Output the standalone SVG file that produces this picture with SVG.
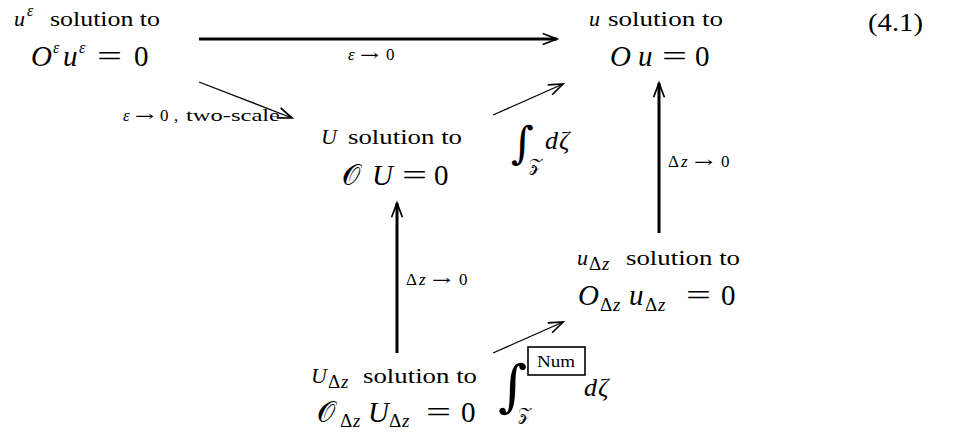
<svg xmlns="http://www.w3.org/2000/svg" width="962" height="432" viewBox="0 0 962 432">
<defs>
<marker id="ah" markerUnits="userSpaceOnUse" markerWidth="20" markerHeight="20" refX="0" refY="0" viewBox="-12 -6 14 12" orient="auto" overflow="visible">
<path d="M-10,-3.8 L0,0 L-10,3.8" fill="none" stroke="#000" stroke-width="1.2"/>
</marker>
</defs>
<style>
text{font-family:"Liberation Serif",serif;fill:#000}
.t{font-size:22px}
.i{font-style:italic}
.m{font-size:29px}
.sup{font-size:16px;font-style:italic}
.sub{font-size:19px}
.lb{font-size:17px}
.ar{font-family:"DejaVu Serif",serif;font-size:15px}
.cal{font-family:"DejaVu Serif","DejaVu Sans",serif;font-style:normal}
.int{font-family:"DejaVu Serif",serif}
.thick{stroke:#000;stroke-width:3;fill:none}
.thin{stroke:#000;stroke-width:1.3;fill:none}
</style>
<rect width="962" height="432" fill="#fff"/>

<g id="connectors">
<line class="thick" x1="199" y1="39" x2="557" y2="39" marker-end="url(#ah)"/>
<g id="lbl-eps-top">
<text class="lb i" x="348" y="60">ε</text>
<text class="ar" x="360" y="60" textLength="19" lengthAdjust="spacingAndGlyphs">→</text>
<text class="lb" x="386" y="60">0</text>
</g>
<line class="thin" x1="199" y1="82" x2="292" y2="118" marker-end="url(#ah)"/>
<g id="lbl-two-scale">
<text class="lb i" x="123" y="121">ε</text>
<text class="ar" x="135" y="121" textLength="19" lengthAdjust="spacingAndGlyphs">→</text>
<text class="lb" x="160" y="121">0</text>
<text class="lb" x="174" y="121">,</text>
<text class="lb" x="186" y="121" textLength="94" lengthAdjust="spacingAndGlyphs">two-scale</text>
</g>
<line class="thin" x1="493" y1="115" x2="563" y2="84" marker-end="url(#ah)"/>
<line class="thick" x1="659" y1="233" x2="659" y2="83" marker-end="url(#ah)"/>
<g id="lbl-dz-right">
<text class="lb" x="668" y="167">Δ</text>
<text class="lb i" x="681" y="167">z</text>
<text class="ar" x="694" y="167" textLength="19" lengthAdjust="spacingAndGlyphs">→</text>
<text class="lb" x="721" y="167">0</text>
</g>
<line class="thick" x1="397" y1="353" x2="397" y2="203" marker-end="url(#ah)"/>
<g id="lbl-dz-left">
<text class="lb" x="406" y="285">Δ</text>
<text class="lb i" x="419" y="285">z</text>
<text class="ar" x="432" y="285" textLength="19" lengthAdjust="spacingAndGlyphs">→</text>
<text class="lb" x="459" y="285">0</text>
</g>
<line class="thin" x1="493" y1="353" x2="563" y2="322" marker-end="url(#ah)"/>
</g>

<g id="int1">
<text class="int" x="511" y="158" font-size="44">∫</text>
<text class="cal" x="529" y="171" font-size="17">𝒵</text>
<text class="i" x="545" y="149" font-size="26">d</text>
<text class="i" x="559" y="149" font-size="26">ζ</text>
</g>

<g id="int2">
<text class="int" x="498" y="405" font-size="56">∫</text>
<text class="cal" x="518" y="420" font-size="17">𝒵</text>
<rect x="528" y="347" width="57" height="28" fill="none" stroke="#000" stroke-width="1.6"/>
<text x="556" y="367" font-size="16" text-anchor="middle" textLength="38" lengthAdjust="spacingAndGlyphs">Num</text>
<text class="i" x="584" y="396" font-size="26">d</text>
<text class="i" x="598" y="396" font-size="26">ζ</text>
</g>

<g id="nodeA">
<text class="t i" x="14" y="26">u</text>
<text class="sup" x="27" y="16">ε</text>
<text class="t" x="50" y="26" textLength="110" lengthAdjust="spacingAndGlyphs">solution to</text>
<text class="m i" x="31" y="66">O</text>
<text class="sup" x="53" y="53">ε</text>
<text class="m i" x="63" y="66">u</text>
<text class="sup" x="79" y="53">ε</text>
<text class="m" x="97" y="66" textLength="25" lengthAdjust="spacingAndGlyphs">=</text>
<text class="m" x="134" y="66">0</text>
</g>

<g id="nodeB">
<text class="t i" x="589" y="26">u</text>
<text class="t" x="608" y="26" textLength="115" lengthAdjust="spacingAndGlyphs">solution to</text>
<text class="m i" x="610" y="66">O</text>
<text class="m i" x="638" y="66">u</text>
<text class="m" x="662" y="66" textLength="25" lengthAdjust="spacingAndGlyphs">=</text>
<text class="m" x="695" y="66">0</text>
</g>

<g id="eqnum">
<text x="868" y="31" font-size="25" textLength="55" lengthAdjust="spacingAndGlyphs">(4.1)</text>
</g>

<g id="nodeC">
<text class="t i" x="321" y="144">U</text>
<text class="t" x="348" y="144" textLength="114" lengthAdjust="spacingAndGlyphs">solution to</text>
<text class="m cal" x="342" y="185" font-size="26">𝒪</text>
<text class="m i" x="372" y="185">U</text>
<text class="m" x="402" y="185" textLength="25" lengthAdjust="spacingAndGlyphs">=</text>
<text class="m" x="434" y="185">0</text>
</g>

<g id="nodeD">
<text class="t i" x="577" y="265">u</text>
<text class="sub" x="589" y="270">Δ</text><text class="sub i" x="602" y="270">z</text>
<text class="t" x="626" y="265" textLength="114" lengthAdjust="spacingAndGlyphs">solution to</text>
<text class="m i" x="578" y="305">O</text>
<text class="sub" x="600" y="311">Δ</text><text class="sub i" x="613" y="311">z</text>
<text class="m i" x="629" y="305">u</text>
<text class="sub" x="645" y="311">Δ</text><text class="sub i" x="658" y="311">z</text>
<text class="m" x="686" y="305" textLength="25" lengthAdjust="spacingAndGlyphs">=</text>
<text class="m" x="721" y="305">0</text>
</g>

<g id="nodeE">
<text class="t i" x="311" y="383">U</text>
<text class="sub" x="328" y="388">Δ</text><text class="sub i" x="341" y="388">z</text>
<text class="t" x="363" y="383" textLength="114" lengthAdjust="spacingAndGlyphs">solution to</text>
<text class="m cal" x="317" y="422" font-size="26">𝒪</text>
<text class="sub" x="340" y="427">Δ</text><text class="sub i" x="353" y="427">z</text>
<text class="m i" x="368" y="422">U</text>
<text class="sub" x="389" y="427">Δ</text><text class="sub i" x="402" y="427">z</text>
<text class="m" x="426" y="422" textLength="25" lengthAdjust="spacingAndGlyphs">=</text>
<text class="m" x="461" y="422">0</text>
</g>
</svg>
